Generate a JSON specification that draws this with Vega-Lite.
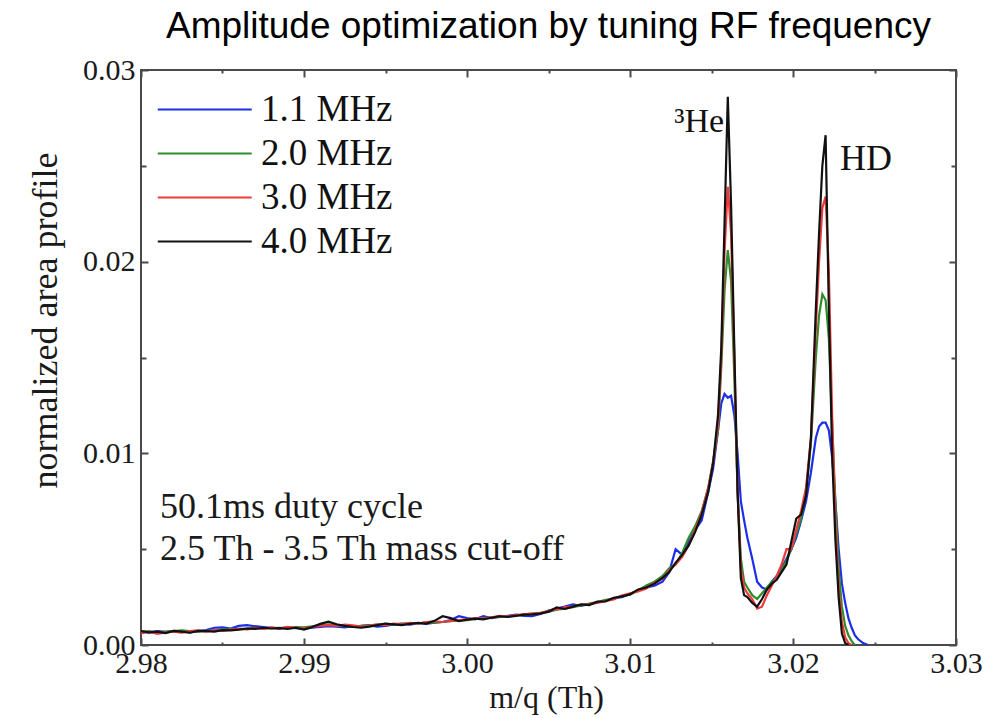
{
  "$schema": "https://vega.github.io/schema/vega-lite/v6.json",
  "autosize": {"type": "none"},
  "padding": {"left": 141, "top": 70, "right": 32, "bottom": 73},
  "width": 815,
  "height": 575,
  "title": {"text": "Amplitude optimization by tuning RF frequency", "font": "Liberation Sans", "fontSize": 37, "fontWeight": "normal", "color": "#000000", "anchor": "middle", "offset": 9},
  "datasets": {
    "spectra": [
      {"x": 2.9800, "b": 0.00070, "g": 0.00068, "r": 0.00060, "k": 0.00072},
      {"x": 2.9805, "b": 0.00065, "g": 0.00072, "r": 0.00070, "k": 0.00066},
      {"x": 2.9810, "b": 0.00072, "g": 0.00066, "r": 0.00058, "k": 0.00070},
      {"x": 2.9815, "b": 0.00068, "g": 0.00070, "r": 0.00066, "k": 0.00062},
      {"x": 2.9820, "b": 0.00074, "g": 0.00072, "r": 0.00070, "k": 0.00074},
      {"x": 2.9825, "b": 0.00070, "g": 0.00076, "r": 0.00064, "k": 0.00070},
      {"x": 2.9830, "b": 0.00066, "g": 0.00072, "r": 0.00072, "k": 0.00064},
      {"x": 2.9835, "b": 0.00072, "g": 0.00070, "r": 0.00076, "k": 0.00074},
      {"x": 2.9840, "b": 0.00078, "g": 0.00074, "r": 0.00070, "k": 0.00072},
      {"x": 2.9845, "b": 0.00090, "g": 0.00076, "r": 0.00078, "k": 0.00070},
      {"x": 2.9850, "b": 0.00092, "g": 0.00080, "r": 0.00074, "k": 0.00078},
      {"x": 2.9855, "b": 0.00086, "g": 0.00082, "r": 0.00080, "k": 0.00076},
      {"x": 2.9860, "b": 0.00100, "g": 0.00084, "r": 0.00084, "k": 0.00080},
      {"x": 2.9865, "b": 0.00104, "g": 0.00086, "r": 0.00082, "k": 0.00086},
      {"x": 2.9870, "b": 0.00098, "g": 0.00090, "r": 0.00088, "k": 0.00084},
      {"x": 2.9875, "b": 0.00094, "g": 0.00086, "r": 0.00084, "k": 0.00090},
      {"x": 2.9880, "b": 0.00090, "g": 0.00088, "r": 0.00092, "k": 0.00086},
      {"x": 2.9885, "b": 0.00086, "g": 0.00090, "r": 0.00086, "k": 0.00088},
      {"x": 2.9890, "b": 0.00092, "g": 0.00088, "r": 0.00094, "k": 0.00084},
      {"x": 2.9895, "b": 0.00088, "g": 0.00094, "r": 0.00090, "k": 0.00090},
      {"x": 2.9900, "b": 0.00084, "g": 0.00092, "r": 0.00086, "k": 0.00080},
      {"x": 2.9905, "b": 0.00090, "g": 0.00098, "r": 0.00094, "k": 0.00094},
      {"x": 2.9910, "b": 0.00094, "g": 0.00104, "r": 0.00100, "k": 0.00110},
      {"x": 2.9915, "b": 0.00098, "g": 0.00108, "r": 0.00104, "k": 0.00122},
      {"x": 2.9920, "b": 0.00096, "g": 0.00104, "r": 0.00100, "k": 0.00108},
      {"x": 2.9925, "b": 0.00092, "g": 0.00100, "r": 0.00106, "k": 0.00100},
      {"x": 2.9930, "b": 0.00098, "g": 0.00096, "r": 0.00102, "k": 0.00094},
      {"x": 2.9935, "b": 0.00100, "g": 0.00100, "r": 0.00096, "k": 0.00090},
      {"x": 2.9940, "b": 0.00104, "g": 0.00102, "r": 0.00100, "k": 0.00096},
      {"x": 2.9945, "b": 0.00096, "g": 0.00106, "r": 0.00108, "k": 0.00104},
      {"x": 2.9950, "b": 0.00100, "g": 0.00110, "r": 0.00104, "k": 0.00112},
      {"x": 2.9955, "b": 0.00108, "g": 0.00106, "r": 0.00112, "k": 0.00108},
      {"x": 2.9960, "b": 0.00112, "g": 0.00110, "r": 0.00108, "k": 0.00104},
      {"x": 2.9965, "b": 0.00106, "g": 0.00114, "r": 0.00116, "k": 0.00110},
      {"x": 2.9970, "b": 0.00114, "g": 0.00112, "r": 0.00112, "k": 0.00116},
      {"x": 2.9975, "b": 0.00110, "g": 0.00118, "r": 0.00120, "k": 0.00112},
      {"x": 2.9980, "b": 0.00116, "g": 0.00116, "r": 0.00124, "k": 0.00126},
      {"x": 2.9985, "b": 0.00120, "g": 0.00120, "r": 0.00120, "k": 0.00150},
      {"x": 2.9990, "b": 0.00130, "g": 0.00124, "r": 0.00126, "k": 0.00140},
      {"x": 2.9995, "b": 0.00150, "g": 0.00128, "r": 0.00130, "k": 0.00124},
      {"x": 3.0000, "b": 0.00140, "g": 0.00130, "r": 0.00134, "k": 0.00132},
      {"x": 3.0005, "b": 0.00134, "g": 0.00136, "r": 0.00140, "k": 0.00138},
      {"x": 3.0010, "b": 0.00150, "g": 0.00140, "r": 0.00138, "k": 0.00134},
      {"x": 3.0015, "b": 0.00140, "g": 0.00144, "r": 0.00144, "k": 0.00142},
      {"x": 3.0020, "b": 0.00146, "g": 0.00148, "r": 0.00152, "k": 0.00150},
      {"x": 3.0025, "b": 0.00152, "g": 0.00150, "r": 0.00148, "k": 0.00146},
      {"x": 3.0030, "b": 0.00158, "g": 0.00154, "r": 0.00156, "k": 0.00152},
      {"x": 3.0035, "b": 0.00152, "g": 0.00160, "r": 0.00160, "k": 0.00158},
      {"x": 3.0040, "b": 0.00150, "g": 0.00164, "r": 0.00164, "k": 0.00160},
      {"x": 3.0045, "b": 0.00162, "g": 0.00168, "r": 0.00166, "k": 0.00164},
      {"x": 3.0050, "b": 0.00180, "g": 0.00172, "r": 0.00178, "k": 0.00174},
      {"x": 3.0055, "b": 0.00190, "g": 0.00184, "r": 0.00186, "k": 0.00196},
      {"x": 3.0060, "b": 0.00200, "g": 0.00190, "r": 0.00196, "k": 0.00188},
      {"x": 3.0065, "b": 0.00212, "g": 0.00198, "r": 0.00202, "k": 0.00200},
      {"x": 3.0070, "b": 0.00204, "g": 0.00206, "r": 0.00210, "k": 0.00212},
      {"x": 3.0075, "b": 0.00214, "g": 0.00216, "r": 0.00214, "k": 0.00208},
      {"x": 3.0080, "b": 0.00222, "g": 0.00224, "r": 0.00220, "k": 0.00226},
      {"x": 3.0085, "b": 0.00232, "g": 0.00236, "r": 0.00230, "k": 0.00228},
      {"x": 3.0090, "b": 0.00244, "g": 0.00240, "r": 0.00238, "k": 0.00246},
      {"x": 3.0095, "b": 0.00250, "g": 0.00256, "r": 0.00258, "k": 0.00254},
      {"x": 3.0100, "b": 0.00266, "g": 0.00262, "r": 0.00270, "k": 0.00264},
      {"x": 3.0105, "b": 0.00285, "g": 0.00285, "r": 0.00280, "k": 0.00290},
      {"x": 3.0110, "b": 0.00300, "g": 0.00310, "r": 0.00295, "k": 0.00300},
      {"x": 3.0115, "b": 0.00310, "g": 0.00330, "r": 0.00325, "k": 0.00320},
      {"x": 3.0120, "b": 0.00330, "g": 0.00360, "r": 0.00345, "k": 0.00350},
      {"x": 3.0124, "b": 0.00380, "g": 0.00400, "r": 0.00390, "k": 0.00380},
      {"x": 3.0128, "b": 0.00500, "g": 0.00420, "r": 0.00420, "k": 0.00430},
      {"x": 3.0132, "b": 0.00470, "g": 0.00480, "r": 0.00460, "k": 0.00470},
      {"x": 3.0136, "b": 0.00540, "g": 0.00560, "r": 0.00520, "k": 0.00520},
      {"x": 3.0140, "b": 0.00600, "g": 0.00620, "r": 0.00600, "k": 0.00590},
      {"x": 3.0144, "b": 0.00650, "g": 0.00700, "r": 0.00690, "k": 0.00680},
      {"x": 3.0148, "b": 0.00800, "g": 0.00820, "r": 0.00820, "k": 0.00800},
      {"x": 3.0151, "b": 0.00920, "g": 0.00960, "r": 0.00950, "k": 0.00950},
      {"x": 3.0154, "b": 0.01120, "g": 0.01120, "r": 0.01150, "k": 0.01200},
      {"x": 3.0156, "b": 0.01260, "g": 0.01450, "r": 0.01500, "k": 0.01550},
      {"x": 3.0158, "b": 0.01310, "g": 0.01850, "r": 0.02050, "k": 0.02200},
      {"x": 3.0160, "b": 0.01290, "g": 0.02060, "r": 0.02390, "k": 0.02860},
      {"x": 3.0162, "b": 0.01300, "g": 0.01900, "r": 0.02150, "k": 0.02300},
      {"x": 3.0164, "b": 0.01200, "g": 0.01400, "r": 0.01500, "k": 0.01550},
      {"x": 3.0166, "b": 0.01000, "g": 0.00800, "r": 0.00800, "k": 0.00800},
      {"x": 3.0168, "b": 0.00750, "g": 0.00450, "r": 0.00400, "k": 0.00350},
      {"x": 3.0170, "b": 0.00650, "g": 0.00330, "r": 0.00300, "k": 0.00260},
      {"x": 3.0172, "b": 0.00560, "g": 0.00300, "r": 0.00270, "k": 0.00250},
      {"x": 3.0175, "b": 0.00450, "g": 0.00260, "r": 0.00240, "k": 0.00220},
      {"x": 3.0178, "b": 0.00330, "g": 0.00240, "r": 0.00190, "k": 0.00200},
      {"x": 3.0181, "b": 0.00300, "g": 0.00270, "r": 0.00200, "k": 0.00240},
      {"x": 3.0184, "b": 0.00290, "g": 0.00300, "r": 0.00260, "k": 0.00290},
      {"x": 3.0187, "b": 0.00330, "g": 0.00330, "r": 0.00310, "k": 0.00320},
      {"x": 3.0190, "b": 0.00360, "g": 0.00350, "r": 0.00360, "k": 0.00340},
      {"x": 3.0193, "b": 0.00400, "g": 0.00390, "r": 0.00420, "k": 0.00380},
      {"x": 3.0196, "b": 0.00450, "g": 0.00440, "r": 0.00500, "k": 0.00420},
      {"x": 3.0199, "b": 0.00500, "g": 0.00500, "r": 0.00500, "k": 0.00540},
      {"x": 3.0202, "b": 0.00560, "g": 0.00580, "r": 0.00600, "k": 0.00660},
      {"x": 3.0205, "b": 0.00650, "g": 0.00660, "r": 0.00700, "k": 0.00680},
      {"x": 3.0208, "b": 0.00750, "g": 0.00800, "r": 0.00820, "k": 0.00780},
      {"x": 3.0211, "b": 0.00900, "g": 0.01050, "r": 0.01080, "k": 0.01080},
      {"x": 3.0214, "b": 0.01080, "g": 0.01500, "r": 0.01650, "k": 0.01750},
      {"x": 3.0216, "b": 0.01140, "g": 0.01720, "r": 0.02000, "k": 0.02150},
      {"x": 3.0218, "b": 0.01160, "g": 0.01830, "r": 0.02280, "k": 0.02500},
      {"x": 3.0220, "b": 0.01160, "g": 0.01800, "r": 0.02340, "k": 0.02660},
      {"x": 3.0222, "b": 0.01120, "g": 0.01600, "r": 0.01950, "k": 0.01750},
      {"x": 3.0224, "b": 0.00980, "g": 0.01150, "r": 0.01200, "k": 0.01000},
      {"x": 3.0226, "b": 0.00750, "g": 0.00750, "r": 0.00650, "k": 0.00550},
      {"x": 3.0228, "b": 0.00500, "g": 0.00400, "r": 0.00300, "k": 0.00250},
      {"x": 3.0230, "b": 0.00320, "g": 0.00200, "r": 0.00120, "k": 0.00060},
      {"x": 3.0232, "b": 0.00220, "g": 0.00100, "r": 0.00040, "k": 0.00010},
      {"x": 3.0234, "b": 0.00140, "g": 0.00050, "r": 0.00010, "k": 0.00000},
      {"x": 3.0236, "b": 0.00090, "g": 0.00020, "r": 0.00000, "k": null},
      {"x": 3.0238, "b": 0.00050, "g": 0.00000, "r": null, "k": null},
      {"x": 3.0240, "b": 0.00030, "g": null, "r": null, "k": null},
      {"x": 3.0243, "b": 0.00010, "g": null, "r": null, "k": null},
      {"x": 3.0246, "b": 0.00000, "g": null, "r": null, "k": null}
    ],
    "labels": [
      {"x": 3.01577, "y": 0.02677, "label": "³He", "kind": "peakLeft"},
      {"x": 3.02288, "y": 0.02478, "label": "HD", "kind": "peakRight"},
      {"x": 2.98117, "y": 0.00663, "label": "50.1ms duty cycle", "kind": "note"},
      {"x": 2.98117, "y": 0.00443, "label": "2.5 Th - 3.5 Th mass cut-off", "kind": "note"}
    ]
  },
  "layer": [
    {
      "data": {"name": "spectra"},
      "transform": [{"fold": ["b", "g", "r", "k"], "as": ["series", "value"]}],
      "mark": {"type": "line", "strokeWidth": 2.2, "clip": true},
      "encoding": {
        "x": {
          "field": "x", "type": "quantitative",
          "scale": {"domain": [2.98, 3.03], "nice": false, "zero": false},
          "axis": {
            "orient": "bottom",
            "values": [2.98, 2.985, 2.99, 2.995, 3.0, 3.005, 3.01, 3.015, 3.02, 3.025, 3.03],
            "labelExpr": "abs(datum.value*100 - round(datum.value*100)) < 0.01 ? format(datum.value, '.2f') : ''",
            "tickSize": {"condition": {"test": "abs(datum.value*100 - round(datum.value*100)) < 0.01", "value": -7}, "value": -3},
            "labelPadding": 10,
            "labelBaseline": "top",
            "labelFlush": false,
            "labelOverlap": false,
            "title": "m/q  (Th)",
            "titleFontSize": 32,
            "titleX": 405,
            "titleY": 62,
            "titleAlign": "center",
            "titleBaseline": "alphabetic"
          }
        },
        "y": {
          "field": "value", "type": "quantitative",
          "scale": {"domain": [0, 0.03], "nice": false},
          "axis": {
            "orient": "left",
            "values": [0, 0.005, 0.01, 0.015, 0.02, 0.025, 0.03],
            "labelExpr": "abs(datum.value*100 - round(datum.value*100)) < 0.01 ? format(datum.value, '.2f') : ''",
            "tickSize": {"condition": {"test": "abs(datum.value*100 - round(datum.value*100)) < 0.01", "value": -7}, "value": -5},
            "labelPadding": 13,
            "labelFlush": false,
            "labelOverlap": false,
            "title": "normalized area profile",
            "titleFontSize": 36,
            "titleX": -96,
            "titleY": 250,
            "titleAngle": -90,
            "titleAlign": "center",
            "titleBaseline": "middle"
          }
        },
        "color": {
          "field": "series", "type": "nominal",
          "sort": ["b", "g", "r", "k"],
          "scale": {"domain": ["b", "g", "r", "k"], "range": ["#1c2ee8", "#2e8b2e", "#ee3a3a", "#111111"]},
          "legend": {
            "orient": "none", "legendX": 10, "legendY": 21,
            "title": null,
            "labelFont": "Liberation Serif", "labelFontSize": 37, "labelColor": "#111111",
            "labelExpr": "{'b': '1.1 MHz', 'g': '2.0 MHz', 'r': '3.0 MHz', 'k': '4.0 MHz'}[datum.label]",
            "symbolType": "M-1,0H7", "symbolSize": 552, "symbolStrokeWidth": 2.2,
            "rowPadding": 6, "labelOffset": 73, "padding": 0, "labelLimit": 400
          }
        }
      }
    },
    {
      "data": {"name": "labels"},
      "transform": [{"filter": "datum.kind == 'peakLeft'"}],
      "mark": {"type": "text", "align": "right", "baseline": "alphabetic", "font": "Liberation Serif", "fontSize": 34, "color": "#111111"},
      "encoding": {
        "x": {
          "field": "x", "type": "quantitative",
          "axis": {
            "orient": "top",
            "values": [2.98, 2.985, 2.99, 2.995, 3.0, 3.005, 3.01, 3.015, 3.02, 3.025, 3.03],
            "labels": false,
            "tickSize": {"condition": {"test": "abs(datum.value*100 - round(datum.value*100)) < 0.01", "value": -7}, "value": -3},
            "title": null
          }
        },
        "y": {
          "field": "y", "type": "quantitative",
          "axis": {
            "orient": "right",
            "values": [0, 0.005, 0.01, 0.015, 0.02, 0.025, 0.03],
            "labels": false,
            "tickSize": {"condition": {"test": "abs(datum.value*100 - round(datum.value*100)) < 0.01", "value": -7}, "value": -5},
            "title": null
          }
        },
        "text": {"field": "label"}
      }
    },
    {
      "data": {"name": "labels"},
      "transform": [{"filter": "datum.kind == 'peakRight'"}],
      "mark": {"type": "text", "align": "left", "baseline": "alphabetic", "font": "Liberation Serif", "fontSize": 36, "color": "#111111"},
      "encoding": {
        "x": {"field": "x", "type": "quantitative", "axis": null},
        "y": {"field": "y", "type": "quantitative", "axis": null},
        "text": {"field": "label"}
      }
    },
    {
      "data": {"name": "labels"},
      "transform": [{"filter": "datum.kind == 'note'"}],
      "mark": {"type": "text", "align": "left", "baseline": "alphabetic", "font": "Liberation Serif", "fontSize": 36, "color": "#1a1a1a"},
      "encoding": {
        "x": {"field": "x", "type": "quantitative", "axis": null},
        "y": {"field": "y", "type": "quantitative", "axis": null},
        "text": {"field": "label"}
      }
    }
  ],
  "resolve": {"axis": {"x": "independent", "y": "independent"}},
  "config": {
    "view": {"stroke": "#4a4a4a", "strokeWidth": 2},
    "axis": {
      "domain": false, "grid": false,
      "labelFont": "Liberation Serif", "labelFontSize": 30, "labelColor": "#1a1a1a",
      "tickColor": "#4a4a4a", "tickWidth": 2,
      "titleFont": "Liberation Serif", "titleFontWeight": "normal", "titleColor": "#1a1a1a"
    }
  }
}
